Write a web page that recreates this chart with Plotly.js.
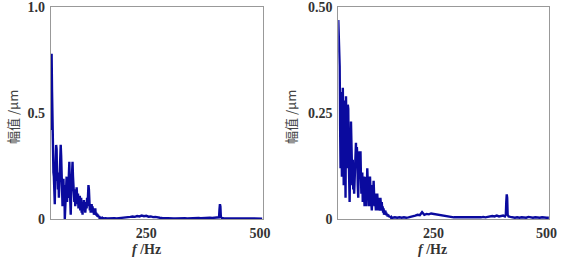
<!DOCTYPE html>
<html>
<head>
<meta charset="utf-8">
<script src="https://cdn.plot.ly/plotly-3.0.1.min.js"></script>
<style>html,body{margin:0;padding:0;background:#fff}#chart{width:567px;height:262px}</style>
</head>
<body>
<div id="chart"></div>
<script>
// Frequency axis (Hz)
const freq = [
 40,41,42,43,44,45,46,47,48,49,50,51,52,53,54,55,56,57,58,59,
 60,61,62,63,64,65,66,67,68,69,70,71,72,73,74,75,76,77,78,79,
 80,81,82,83,84,85,86,87,88,89,90,91,92,93,94,95,96,97,98,99,
 100,101,102,103,104,105,106,107,108,109,110,111,112,113,114,115,116,117,118,119,
 120,121,122,123,124,125,126,127,128,129,130,131,132,133,134,135,136,137,138,139,
 140,141,142,143,144,145,146,147,148,149,150,151,152,153,154,155,156,157,158,159,160,
 165,170,175,180,185,190,195,200,205,210,215,220,225,230,235,240,245,250,255,260,
 265,270,275,280,285,290,295,300,305,310,315,320,325,330,335,340,345,350,355,360,
 365,370,375,380,385,390,395,400,
 404,408,410,411,412,413,414,416,420,
 425,430,435,440,445,450,455,460,465,470,475,480,485,490,495,500,505
];

// Left spectrum amplitude (μm)
const ampLeft = [
 0.42,0.62,0.78,0.60,0.42,0.40,0.22,0.20,0.12,0.07,0.20,0.28,0.35,0.33,0.18,0.22,0.14,0.20,0.10,0.18,
 0.22,0.25,0.35,0.30,0.15,0.18,0.06,0.12,0.19,0.10,0.16,0.00,0.08,0.17,0.12,0.20,0.08,0.15,0.10,0.18,
 0.22,0.27,0.15,0.05,0.02,0.12,0.18,0.22,0.27,0.20,0.12,0.17,0.08,0.14,0.06,0.13,0.09,0.15,0.11,0.07,
 0.12,0.05,0.10,0.08,0.11,0.04,0.08,0.10,0.03,0.06,0.02,0.08,0.05,0.09,0.04,0.07,0.03,0.06,0.08,0.05,
 0.10,0.06,0.12,0.16,0.14,0.08,0.04,0.06,0.03,0.05,0.07,0.04,0.06,0.03,0.05,0.02,0.04,0.03,0.05,0.02,
 0.03,0.015,0.025,0.01,0.02,0.008,0.012,0.006,0.008,0.005,0.006,0.005,0.004,0.006,0.003,0.005,0.004,0.003,0.004,0.003,0.004,
 0.003,0.004,0.003,0.004,0.003,0.004,0.005,0.004,0.006,0.008,0.010,0.012,0.010,0.014,0.012,0.016,0.013,0.015,0.011,0.012,
 0.009,0.010,0.007,0.006,0.005,0.004,0.004,0.003,0.004,0.003,0.003,0.004,0.003,0.003,0.004,0.003,0.004,0.003,0.004,0.004,
 0.005,0.004,0.005,0.006,0.005,0.006,0.005,0.006,
 0.006,0.005,0.008,0.045,0.070,0.060,0.010,0.005,0.004,
 0.004,0.003,0.004,0.003,0.003,0.004,0.003,0.003,0.004,0.003,0.003,0.002,0.003,0.003,0.002,0.003,0.002
];

// Right spectrum amplitude (μm)
const ampRight = [
 0.47,0.44,0.39,0.36,0.22,0.12,0.30,0.18,0.10,0.25,0.31,0.20,0.08,0.22,0.28,0.18,0.05,0.29,0.24,0.12,
 0.20,0.27,0.26,0.15,0.06,0.04,0.12,0.20,0.23,0.18,0.10,0.08,0.14,0.07,0.10,0.06,0.12,0.08,0.15,0.18,
 0.12,0.17,0.15,0.08,0.05,0.11,0.14,0.16,0.12,0.16,0.10,0.06,0.08,0.11,0.04,0.07,0.10,0.06,0.03,0.08,
 0.10,0.06,0.03,0.07,0.12,0.09,0.05,0.08,0.03,0.06,0.10,0.07,0.04,0.06,0.02,0.05,0.08,0.06,0.09,0.05,
 0.03,0.06,0.04,0.02,0.05,0.03,0.06,0.04,0.02,0.05,0.03,0.04,0.02,0.05,0.03,0.02,0.04,0.02,0.03,0.015,
 0.025,0.01,0.02,0.012,0.02,0.01,0.015,0.008,0.012,0.006,0.01,0.008,0.005,0.007,0.004,0.006,0.004,0.005,0.003,0.004,0.003,
 0.004,0.003,0.004,0.003,0.004,0.003,0.004,0.005,0.006,0.008,0.010,0.009,0.016,0.010,0.012,0.011,0.013,0.012,0.011,0.010,
 0.009,0.008,0.007,0.006,0.005,0.005,0.004,0.004,0.004,0.003,0.003,0.003,0.004,0.003,0.003,0.004,0.003,0.004,0.004,0.005,
 0.004,0.005,0.006,0.007,0.006,0.008,0.006,0.007,
 0.008,0.006,0.010,0.040,0.058,0.050,0.010,0.006,0.005,
 0.004,0.003,0.004,0.003,0.004,0.003,0.003,0.005,0.004,0.003,0.004,0.003,0.003,0.004,0.003,0.003,0.003
];

const leftTickVals = [0, 0.5, 1.0];
const leftTickText = ['0', '0.5', '1.0'];
const rightTickVals = [0, 0.25, 0.5];
const rightTickText = ['0', '0.25', '0.50'];
const xTickVals = [250, 500];
const xTickText = ['250', '500'];

const lineColor = '#0a0a9e';
const serif = '"Liberation Serif", "Times New Roman", "DejaVu Serif", serif';
const tickFont = {family: serif, size: 14, color: '#333', weight: 'bold'};

const traces = [
 {x: freq, y: ampLeft, type: 'scatter', mode: 'lines', xaxis: 'x', yaxis: 'y',
  line: {color: lineColor, width: 2.4}, hoverinfo: 'skip'},
 {x: freq, y: ampRight, type: 'scatter', mode: 'lines', xaxis: 'x2', yaxis: 'y2',
  line: {color: lineColor, width: 2.4}, hoverinfo: 'skip'}
];

const W = 567, H = 262;
const yDom = [(H - 219) / H, (H - 7.3) / H];
const axBase = {showline: true, mirror: true, linecolor: '#999', linewidth: 1,
  showgrid: false, zeroline: false, ticks: '', tickfont: tickFont, fixedrange: true};

const layout = {
 width: W, height: H,
 margin: {l: 0, r: 0, t: 0, b: 0},
 paper_bgcolor: '#fff', plot_bgcolor: '#fff',
 showlegend: false,
 xaxis: Object.assign({}, axBase, {domain: [50.7 / W, 262.7 / W], range: [40, 506],
   tickvals: xTickVals, ticktext: xTickText, anchor: 'y', ticklabelstandoff: 1}),
 yaxis: Object.assign({}, axBase, {domain: yDom, range: [0, 1.0],
   tickvals: leftTickVals, ticktext: leftTickText, anchor: 'x', ticklabelstandoff: 2}),
 xaxis2: Object.assign({}, axBase, {domain: [338.3 / W, 549.3 / W], range: [40, 506],
   tickvals: xTickVals, ticktext: xTickText, anchor: 'y2', ticklabelstandoff: 1}),
 yaxis2: Object.assign({}, axBase, {domain: yDom, range: [0, 0.5],
   tickvals: rightTickVals, ticktext: rightTickText, anchor: 'x2', ticklabelstandoff: 2}),
 annotations: [
  {text: '幅值 /μm', xref: 'paper', yref: 'paper', x: 12 / W, y: (H - 117) / H,
   textangle: -90, showarrow: false, xanchor: 'center', yanchor: 'middle',
   font: {family: 'Noto Sans CJK SC, sans-serif', size: 13, color: '#444'}},
  {text: '幅值 /μm', xref: 'paper', yref: 'paper', x: 290 / W, y: (H - 117) / H,
   textangle: -90, showarrow: false, xanchor: 'center', yanchor: 'middle',
   font: {family: 'Noto Sans CJK SC, sans-serif', size: 13, color: '#444'}},
  {text: '<b><i>f</i> /Hz</b>', xref: 'paper', yref: 'paper', x: 146 / W, y: (H - 249) / H,
   showarrow: false, xanchor: 'center', yanchor: 'middle',
   font: {family: serif, size: 14, color: '#333'}},
  {text: '<b><i>f</i> /Hz</b>', xref: 'paper', yref: 'paper', x: 432 / W, y: (H - 249) / H,
   showarrow: false, xanchor: 'center', yanchor: 'middle',
   font: {family: serif, size: 14, color: '#333'}}
 ]
};

Plotly.newPlot('chart', traces, layout, {displayModeBar: false, staticPlot: true});
</script>
</body>
</html>
